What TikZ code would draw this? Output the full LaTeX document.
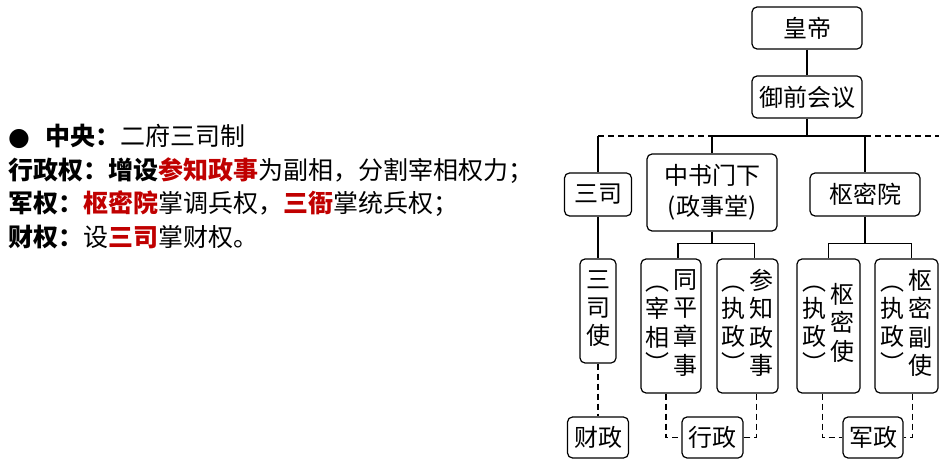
\documentclass[tikz,border=0pt]{standalone}
\usepackage{fontspec}
\setmainfont{Noto Sans CJK SC}
\newfontfamily\symfont{DejaVu Sans}
\definecolor{keyred}{RGB}{192,0,0}
\newcommand{\vcol}[1]{\begin{tabular}[c]{@{}c@{}}#1\end{tabular}}
\newcommand{\keyword}[1]{\textbf{\textcolor{keyred}{#1}}}
\tikzset{
  office/.style={shape=rectangle,draw=black,rounded corners=5pt,line width=1.2pt,
    inner sep=0pt,font=\fontsize{24}{28}\selectfont},
  link/.style={line width=1.2pt},
  dashlink/.style={line width=1.2pt,dash pattern=on 6pt off 4pt},
  point/.style={anchor=base west,inner sep=0pt,font=\fontsize{25}{30}\selectfont}
}
\begin{document}
\begin{tikzpicture}[x=1pt,y=-1pt]
  \useasboundingbox (0,0) rectangle (939,468);

  % left: text
  \node[point] (zhongyang) at (8,145.5) {\makebox[37pt][l]{\symfont ●}\textbf{中央：}二府三司制};
  \node[point] (xingzhengquan) at (8,179) {\textbf{行政权：增设}\keyword{参知政事}为副相，分割宰相权力；};
  \node[point] (junquan) at (8,212.5) {\textbf{军权：}\keyword{枢密院}掌调兵权，\keyword{三衙}掌统兵权；};
  \node[point] (caiquan) at (8,246.5) {\textbf{财权：}设\keyword{三司}掌财权。};

  % right: chart
  \node[office,minimum width=110pt,minimum height=42pt] (huangdi) at (807,28) {皇帝};
  \node[office,minimum width=110pt,minimum height=42pt] (yuqian) at (807,97) {御前会议};
  \coordinate (busend) at (939,136);

  \node[office,minimum width=67pt,minimum height=43pt] (sansi) at (598,194.5) {三司};
  \node[office,minimum width=130pt,minimum height=77pt,align=center,
    font=\fontsize{24}{31}\selectfont] (zhongshu) at (712,192.5) {中书门下\\(政事堂)};
  \node[office,minimum width=110pt,minimum height=43pt] (shumi) at (865,194.5) {枢密院};

  \node[office,minimum width=36pt,minimum height=104pt] (sansishi) at (598,311) {\vcol{三\\司\\使}};
  \node[office,minimum width=60pt,minimum height=134pt] (tongping) at (671,326)
    {\vcol{︵\\[-2pt]宰\\相\\[-2pt]︶}\hspace{4pt}\vcol{同\\平\\章\\事}};
  \node[office,minimum width=61pt,minimum height=134pt] (canzhi) at (747.5,326)
    {\vcol{︵\\[-2pt]执\\政\\[-2pt]︶}\hspace{4pt}\vcol{参\\知\\政\\事}};
  \node[office,minimum width=63pt,minimum height=134pt] (shumishi) at (828.5,326)
    {\vcol{︵\\[-2pt]执\\政\\[-2pt]︶}\hspace{4pt}\vcol{枢\\密\\使}};
  \node[office,minimum width=63pt,minimum height=134pt] (fushi) at (906.5,326)
    {\vcol{︵\\[-2pt]执\\政\\[-2pt]︶}\hspace{4pt}\vcol{枢\\密\\副\\使}};

  \node[office,minimum width=61pt,minimum height=41pt] (caizheng) at (598,437.5) {财政};
  \node[office,minimum width=61pt,minimum height=41pt] (xingzheng) at (712.5,437.5) {行政};
  \node[office,minimum width=60pt,minimum height=41pt] (junzheng) at (873,437.5) {军政};

  \draw[link] (huangdi) -- (yuqian);
  \draw[link] (yuqian.south) -- (yuqian.south |- busend);
  \draw[link] (sansi.north) -- (sansi.north |- busend);
  \draw[dashlink] (sansi.north |- busend) -- (zhongshu.north |- busend);
  \draw[link] (zhongshu.north) -- (zhongshu.north |- busend) -- (shumi.north |- busend) -- (shumi.north);
  \draw[dashlink] (shumi.north |- busend) -- (busend);

  \draw[link] (sansi) -- (sansishi);
  \draw[link] (zhongshu.south) -- ++(0,12) coordinate (zsfork);
  \draw[link] ([xshift=7pt]tongping.north) |- (zsfork) -| ([xshift=7pt]canzhi.north);
  \draw[link] (shumi.south) -- ++(0,27) coordinate (smfork);
  \draw[link] (shumishi.north) |- (smfork) -| ([xshift=5pt]fushi.north);

  \draw[dashlink] (sansishi) -- (caizheng);
  \draw[dashlink] ([xshift=-5pt]tongping.south) |- (xingzheng.west);
  \draw[dashlink] ([xshift=9pt]canzhi.south) |- (xingzheng.east);
  \draw[dashlink] ([xshift=-6pt]shumishi.south) |- (junzheng.west);
  \draw[dashlink] ([xshift=6pt]fushi.south) |- (junzheng.east);
\end{tikzpicture}
\end{document}
